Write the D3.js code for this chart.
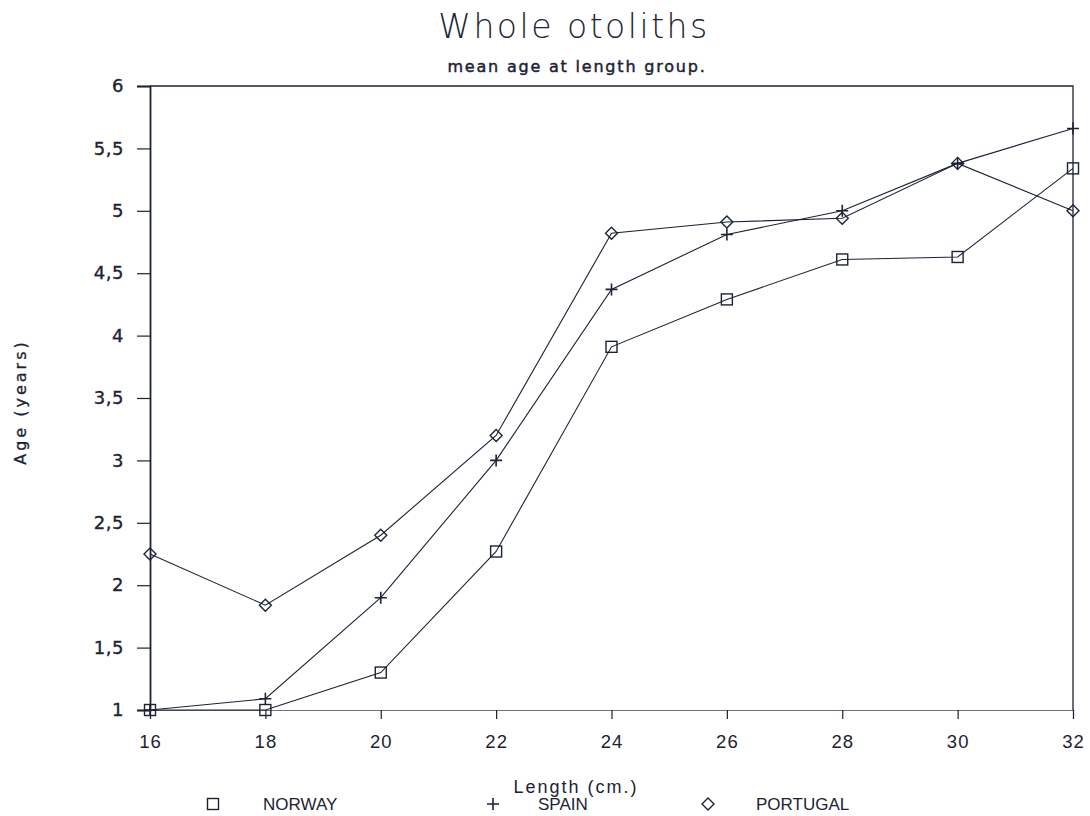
<!DOCTYPE html>
<html>
<head>
<meta charset="utf-8">
<script src="https://cdn.jsdelivr.net/npm/d3@7/dist/d3.min.js"></script>
<style>
  html, body { margin: 0; padding: 0; background: #fff; }
  svg { display: block; }
</style>
</head>
<body>
<svg id="chart" width="1090" height="816"></svg>
<script>
// Length groups (cm) and mean age per country
const lengths = [16, 18, 20, 22, 24, 26, 28, 30, 32];
const norway   = [1.0, 1.0, 1.30, 2.27, 3.91, 4.29, 4.61, 4.63, 5.34];
const spain    = [1.0, 1.09, 1.90, 3.0, 4.37, 4.81, 5.0, 5.38, 5.66];
const portugal = [2.25, 1.84, 2.40, 3.20, 4.82, 4.91, 4.94, 5.38, 5.0];
const seriesNames = ["NORWAY", "SPAIN", "PORTUGAL"];
const xTicks = [16, 18, 20, 22, 24, 26, 28, 30, 32];
const yTicks = [1, 1.5, 2, 2.5, 3, 3.5, 4, 4.5, 5, 5.5, 6];

const ink = "#1b2334";
const svg = d3.select("#chart");
const margin = { left: 150, right: 1073, top: 86, bottom: 710 };

const x = d3.scaleLinear().domain([16, 32]).range([margin.left, margin.right]);
const y = d3.scaleLinear().domain([1, 6]).range([margin.bottom, margin.top]);

const fmt = v => String(v).replace(".", ",");

// Top and right edges of the frame
svg.append("path")
  .attr("d", `M${margin.left},${margin.top}H${margin.right}V${margin.bottom}`)
  .attr("fill", "none").attr("stroke", ink).attr("stroke-width", 1.3);

// Y axis
const yAxis = svg.append("g")
  .attr("transform", `translate(${margin.left},0)`)
  .call(d3.axisLeft(y).tickValues(yTicks).tickFormat(fmt).tickSize(13).tickPadding(13));
yAxis.select(".domain").attr("stroke", ink).attr("stroke-width", 1.8);
yAxis.selectAll(".tick line").attr("stroke", ink).attr("stroke-width", 1.2);
yAxis.selectAll(".tick text")
  .attr("fill", ink)
  .attr("stroke", ink).attr("stroke-width", 0.35)
  .style("font-family", "'DejaVu Sans', sans-serif")
  .style("font-size", "18px")
  .style("letter-spacing", "0.5px");

// X axis
const xAxis = svg.append("g")
  .attr("transform", `translate(0,${margin.bottom})`)
  .call(d3.axisBottom(x).tickValues(xTicks).tickFormat(d3.format("d")).tickSize(9).tickPadding(16));
xAxis.select(".domain").attr("stroke", "#6d717a").attr("stroke-width", 1.1);
xAxis.selectAll(".tick line").attr("stroke", ink).attr("stroke-width", 1.2);
xAxis.selectAll(".tick text")
  .attr("fill", ink)
  .style("font-family", "'Liberation Sans', sans-serif")
  .style("font-size", "18.5px")
  .style("letter-spacing", "1px");

// Titles
svg.append("text")
  .attr("x", 574).attr("y", 38)
  .attr("text-anchor", "middle")
  .attr("fill", ink)
  .style("font-family", "'DejaVu Sans', sans-serif")
  .style("font-weight", "200")
  .style("font-size", "33px")
  .style("letter-spacing", "2.5px")
  .text("Whole otoliths");

svg.append("text")
  .attr("x", 577).attr("y", 72)
  .attr("text-anchor", "middle")
  .attr("fill", ink)
  .attr("stroke", ink).attr("stroke-width", 0.45)
  .style("font-family", "'DejaVu Sans', sans-serif")
  .style("font-size", "16px")
  .style("letter-spacing", "1.8px")
  .text("mean age at length group.");

svg.append("text")
  .attr("transform", "translate(26,402) rotate(-90)")
  .attr("text-anchor", "middle")
  .attr("fill", ink)
  .attr("stroke", ink).attr("stroke-width", 0.3)
  .style("font-family", "'DejaVu Sans', sans-serif")
  .style("font-size", "16px")
  .style("letter-spacing", "3px")
  .text("Age (years)");

svg.append("text")
  .attr("x", 576).attr("y", 793)
  .attr("text-anchor", "middle")
  .attr("fill", ink)
  .style("font-family", "'Liberation Sans', sans-serif")
  .style("font-size", "18px")
  .style("letter-spacing", "2px")
  .text("Length (cm.)");

// Marker drawing helpers
function drawMarker(g, kind, cx, cy) {
  if (kind === "square") {
    g.append("rect").attr("x", cx - 5.5).attr("y", cy - 5.5)
      .attr("width", 11).attr("height", 11)
      .attr("fill", "none").attr("stroke", ink).attr("stroke-width", 1.4);
  } else if (kind === "plus") {
    g.append("path")
      .attr("d", `M${cx - 6},${cy}H${cx + 6}M${cx},${cy - 6}V${cy + 6}`)
      .attr("stroke", ink).attr("stroke-width", 1.6).attr("fill", "none");
  } else {
    g.append("path")
      .attr("d", `M${cx},${cy - 6}L${cx + 6},${cy}L${cx},${cy + 6}L${cx - 6},${cy}Z`)
      .attr("fill", "none").attr("stroke", ink).attr("stroke-width", 1.4);
  }
}

const series = [
  { name: seriesNames[0], values: norway, kind: "square" },
  { name: seriesNames[1], values: spain, kind: "plus" },
  { name: seriesNames[2], values: portugal, kind: "diamond" }
];

const line = d3.line().x(d => x(d[0])).y(d => y(d[1]));

series.forEach(s => {
  const pts = lengths.map((l, i) => [l, s.values[i]]);
  const g = svg.append("g");
  g.append("path").datum(pts)
    .attr("d", line)
    .attr("fill", "none").attr("stroke", ink).attr("stroke-width", 1.1);
  pts.forEach(p => drawMarker(g, s.kind, x(p[0]), y(p[1])));
});

// Legend
const legendX = [213, 493, 708];
const legendTextX = [263, 538, 756];
series.forEach((s, i) => {
  const g = svg.append("g");
  drawMarker(g, s.kind, legendX[i], 804);
  g.append("text")
    .attr("x", legendTextX[i]).attr("y", 810)
    .attr("fill", ink)
    .style("font-family", "'Liberation Sans', sans-serif")
    .style("font-size", "17px")
    .text(s.name);
});
</script>
</body>
</html>
